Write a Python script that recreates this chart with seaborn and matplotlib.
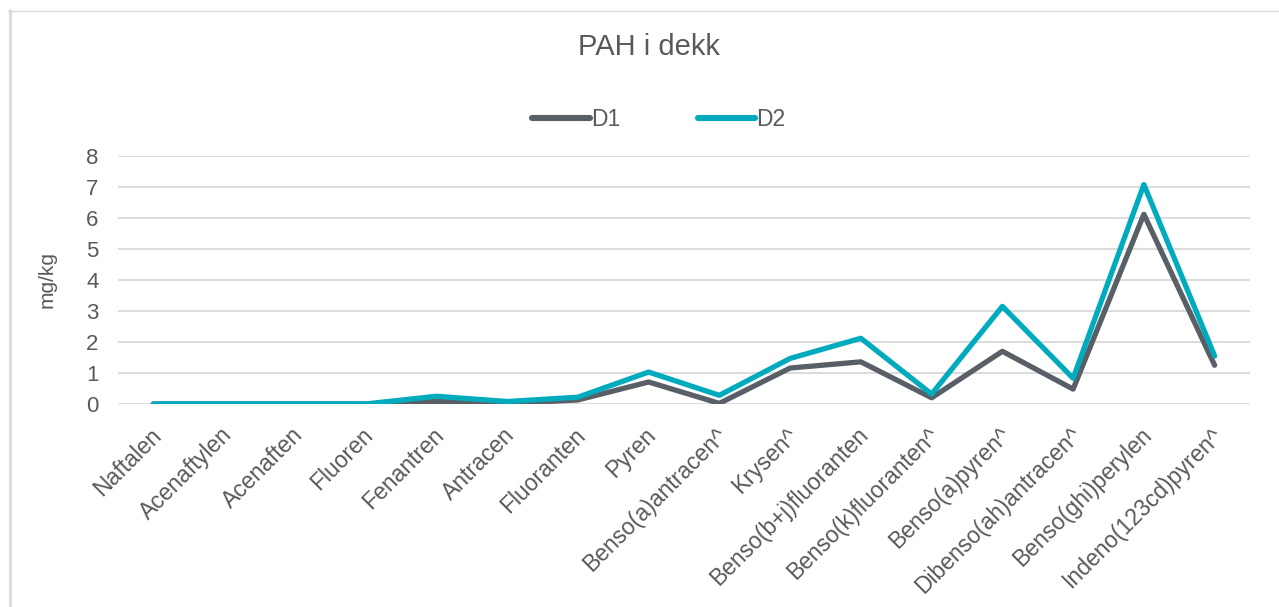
import matplotlib
matplotlib.use("Agg")
import matplotlib.pyplot as plt
import matplotlib.transforms as mtransforms
import seaborn as sns
import pandas as pd
from matplotlib.lines import Line2D

compounds = [
    "Naftalen", "Acenaftylen", "Acenaften", "Fluoren", "Fenantren", "Antracen",
    "Fluoranten", "Pyren", "Benso(a)antracen^", "Krysen^", "Benso(b+j)fluoranten",
    "Benso(k)fluoranten^", "Benso(a)pyren^", "Dibenso(ah)antracen^",
    "Benso(ghi)perylen", "Indeno(123cd)pyren^",
]
d1 = [0.0, 0.0, 0.0, 0.0, 0.08, 0.02, 0.13, 0.71, 0.02, 1.16, 1.36, 0.2, 1.70, 0.48, 6.12, 1.25]
d2 = [0.0, 0.0, 0.0, 0.0, 0.25, 0.08, 0.22, 1.03, 0.28, 1.47, 2.12, 0.32, 3.15, 0.83, 7.08, 1.55]
series_names = ["D1", "D2"]
series_colors = ["#595f66", "#00abbd"]

df = pd.DataFrame({
    "Forbindelse": compounds * 2,
    "mg/kg": d1 + d2,
    "Serie": [series_names[0]] * len(compounds) + [series_names[1]] * len(compounds),
})

sns.set_theme(style="white")
plt.rcParams["font.family"] = ["Liberation Sans", "DejaVu Sans"]
text_color = "#595959"

W, H = 1279, 607
fig = plt.figure(figsize=(W / 100, H / 100), dpi=100)
ax = fig.add_axes([118 / W, 1 - 404 / H, (1250 - 118) / W, (404 - 156) / H])

sns.lineplot(
    data=df, x="Forbindelse", y="mg/kg", hue="Serie",
    palette=dict(zip(series_names, series_colors)),
    sort=False, linewidth=3.8, ax=ax, legend=True,
)
for line in ax.get_lines():
    line.set_solid_capstyle("round")
    line.set_solid_joinstyle("round")

ax.set_xlim(-0.5, len(compounds) - 0.5)
ax.set_ylim(0, 8)
ax.set_yticks(range(0, 9))
ax.yaxis.grid(True, color="#d9d9d9", linewidth=1.3)
ax.set_axisbelow(True)
for s in ax.spines.values():
    s.set_visible(False)

ax.set_xticks(range(len(compounds)))
ax.set_xticklabels(compounds, rotation=45, ha="right", rotation_mode="anchor")
ax.tick_params(axis="y", length=0, colors=text_color, labelsize=16, pad=14)
ax.tick_params(axis="x", length=0, colors=text_color, labelsize=16.5, pad=14)
shift = mtransforms.ScaledTranslation(-4 / 100, 0, fig.dpi_scale_trans)
for lbl in ax.get_xticklabels():
    lbl.set_transform(lbl.get_transform() + shift)
ax.set_xlabel("")
ax.set_ylabel("mg/kg", color=text_color, fontsize=15, labelpad=21)

ax.legend_.remove()
handles, labels = ax.get_legend_handles_labels()
leg = fig.legend(
    handles, labels, loc="center", bbox_to_anchor=(659 / W, 1 - 120 / H),
    ncol=2, frameon=False, fontsize=16.5, handlelength=2.5, handletextpad=0.05,
    columnspacing=3.4, labelcolor=text_color,
)
for h in leg.legend_handles:
    h.set_linewidth(4.4)
    h.set_solid_capstyle("round")

fig.text(649 / W, 1 - 47 / H, "PAH i dekk", ha="center", va="center",
         fontsize=21, color=text_color)

# chart-area frame: top and left edges only (the rest lies outside the canvas)
border = "#d9d9d9"
fig.add_artist(Line2D([8 / W, 1.0], [1 - 10.5 / H] * 2, transform=fig.transFigure,
                      color=border, linewidth=1.0))
fig.add_artist(Line2D([9.5 / W] * 2, [0.0, 1 - 10 / H], transform=fig.transFigure,
                      color=border, linewidth=2.0))

fig.savefig("out.png", dpi=100)
